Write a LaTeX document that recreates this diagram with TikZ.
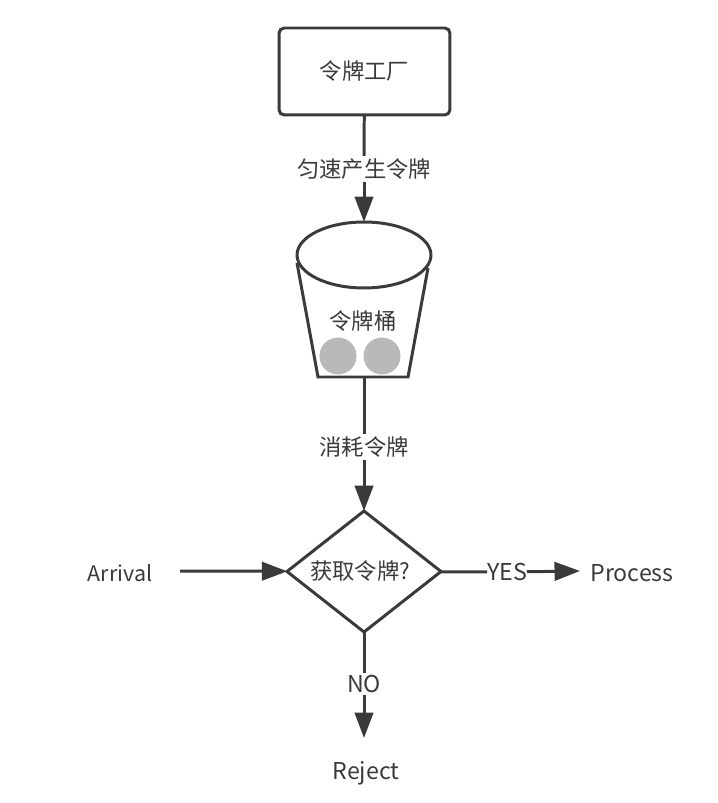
\documentclass[tikz,border=0pt]{standalone}
\usepackage{fontspec}
\setmainfont{Noto Sans CJK SC}
\usetikzlibrary{%
  arrows.meta,%
  shapes.geometric
}
\definecolor{inkgray}{HTML}{3A3A3A}
\definecolor{tokengray}{HTML}{B9B9B9}
\tikzset{
  flowline/.style={draw=inkgray,line width=1.7pt},
  flowarrow/.style={flowline,-{Stealth[inset=0pt,length=14.5pt,width=10.5pt]}},
  flowtext/.style={text=inkgray,font=\fontsize{12.7pt}{15pt}\selectfont,inner sep=1.5pt,outer sep=0pt},
  wordtext/.style={flowtext,font=\fontsize{13.2pt}{15pt}\selectfont},
  token/.style={circle,fill=tokengray,minimum size=0.74cm,inner sep=0pt}
}

\begin{document}
\begin{tikzpicture}[x=0.02cm,y=-0.02cm]
    \useasboundingbox (0,0) rectangle (717,803);
    % factory and the line down to the bucket
    \node [flowline,flowtext,rectangle,rounded corners=3pt,minimum width=3.42cm,minimum height=1.74cm] (factory) at (364.5,71.5) {令牌工厂};
    \node [flowtext] (rate) at (364,169) {匀速产生令牌};
    \node [flowline,ellipse,minimum width=2.68cm,minimum height=1.32cm,inner sep=0pt,outer sep=0pt] (rim) at (364,255) {};
    \draw [flowline] (factory) -- (rate);
    \draw [flowarrow] (rate) -- (rim);
    % bucket body with its two tokens
    \coordinate (bottomleft) at (318,377);
    \coordinate (bottomright) at (408,377);
    \draw [flowline,line join=miter] (297,263) -- (bottomleft) -- (bottomright) -- (428,268);
    \node [token] (tokenleft) at (338,356) {};
    \node [token] (tokenright) at (382,356) {};
    \node [flowtext] (bucket) at (363,321) {令牌桶};
    \coordinate (bottom) at (364,377);
    % decision and its branches
    \node [flowtext] (consume) at (364,447) {消耗令牌};
    \node [flowline,diamond,inner sep=0pt,outer sep=0pt,minimum width=3.08cm,minimum height=2.42cm] (decide) at (364,571.5) {};
    \node [flowtext] (question) at (360,571.5) {获取令牌?};
    \draw [flowline] (bottom) -- (consume);
    \draw [flowarrow] (consume) -- (decide);
    \node [wordtext,font=\fontsize{12.2pt}{15pt}\selectfont] (arrival) at (120,573) {Arrival};
    \coordinate (arrivalend) at (180,571);
    \draw [flowarrow] (arrivalend) -- (decide);
    \node [wordtext,inner sep=0pt] (yes) at (507,572) {YES};
    \node [wordtext] (process) at (632,573) {Process};
    \coordinate (yesend) at (580,571);
    \draw [flowline] (decide) -- (yes);
    \draw [flowarrow] (yes) -- (yesend);
    \node [wordtext] (no) at (364,684) {NO};
    \node [wordtext] (reject) at (366,773) {Reject};
    \coordinate (noend) at (364,738);
    \draw [flowline] (decide) -- (no);
    \draw [flowarrow] (no) -- (noend);
  \end{tikzpicture}
\end{document}
